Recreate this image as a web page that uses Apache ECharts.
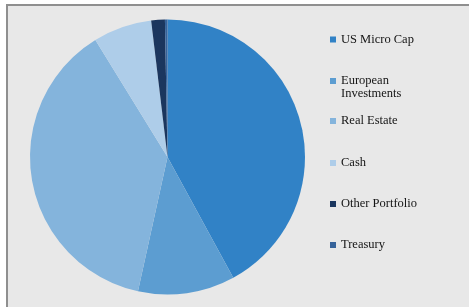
<!DOCTYPE html>
<html>
<head>
<meta charset="utf-8">
<script src="https://cdn.jsdelivr.net/npm/echarts@6/dist/echarts.min.js"></script>
<style>
  html, body { margin: 0; padding: 0; background: #ffffff; }
  #chart { width: 469px; height: 307px; }
</style>
</head>
<body>
<div id="chart"></div>
<script>
var categories = ['US Micro Cap', 'European Investments', 'Real Estate', 'Cash', 'Other Portfolio', 'Treasury'];
var legendLabels = ['US Micro Cap', 'European\nInvestments', 'Real Estate', 'Cash', 'Other Portfolio', 'Treasury'];
var shares = [42.1, 11.4, 37.8, 6.9, 1.6, 0.3];
var colors = ['#3182c6', '#5c9dd1', '#84b4dc', '#aecde9', '#1b365e', '#36639a'];

var legendTops = [33, 74.5, 114.5, 156.5, 197.5, 238.5];

var chart = echarts.init(document.getElementById('chart'));

// one legend per entry so the two-line label can sit where the reference has it
var legends = categories.map(function (name, i) {
    var twoLine = legendLabels[i].indexOf('\n') >= 0;
    return {
        data: [name],
        orient: 'vertical',
        left: 330,
        top: legendTops[i],
        padding: 0,
        itemWidth: 6,
        itemHeight: twoLine ? 26 : 6,
        icon: twoLine ? 'path://M0,0L6,0L6,0Z M0,3.5H6V9.5H0Z M0,26L6,26L6,26Z' : 'rect',
        selectedMode: false,
        formatter: function () { return legendLabels[i]; },
        textStyle: {
            fontFamily: 'Liberation Serif',
            fontSize: 12.5,
            lineHeight: 13,
            color: '#141414'
        }
    };
});

chart.setOption({
    animation: false,
    color: colors,
    graphic: [
        {
            type: 'rect',
            z: -10,
            silent: true,
            shape: { x: 7, y: 5, width: 470, height: 310 },
            style: { fill: '#e8e8e8', stroke: '#8f8f8f', lineWidth: 2 }
        }
    ],
    legend: legends,
    series: [
        {
            type: 'pie',
            center: [167.5, 157],
            radius: 137.5,
            startAngle: 90,
            clockwise: true,
            label: { show: false },
            labelLine: { show: false },
            emphasis: { disabled: true },
            itemStyle: { borderWidth: 0 },
            data: categories.map(function (name, i) {
                return { name: name, value: shares[i] };
            })
        }
    ]
});
</script>
</body>
</html>
